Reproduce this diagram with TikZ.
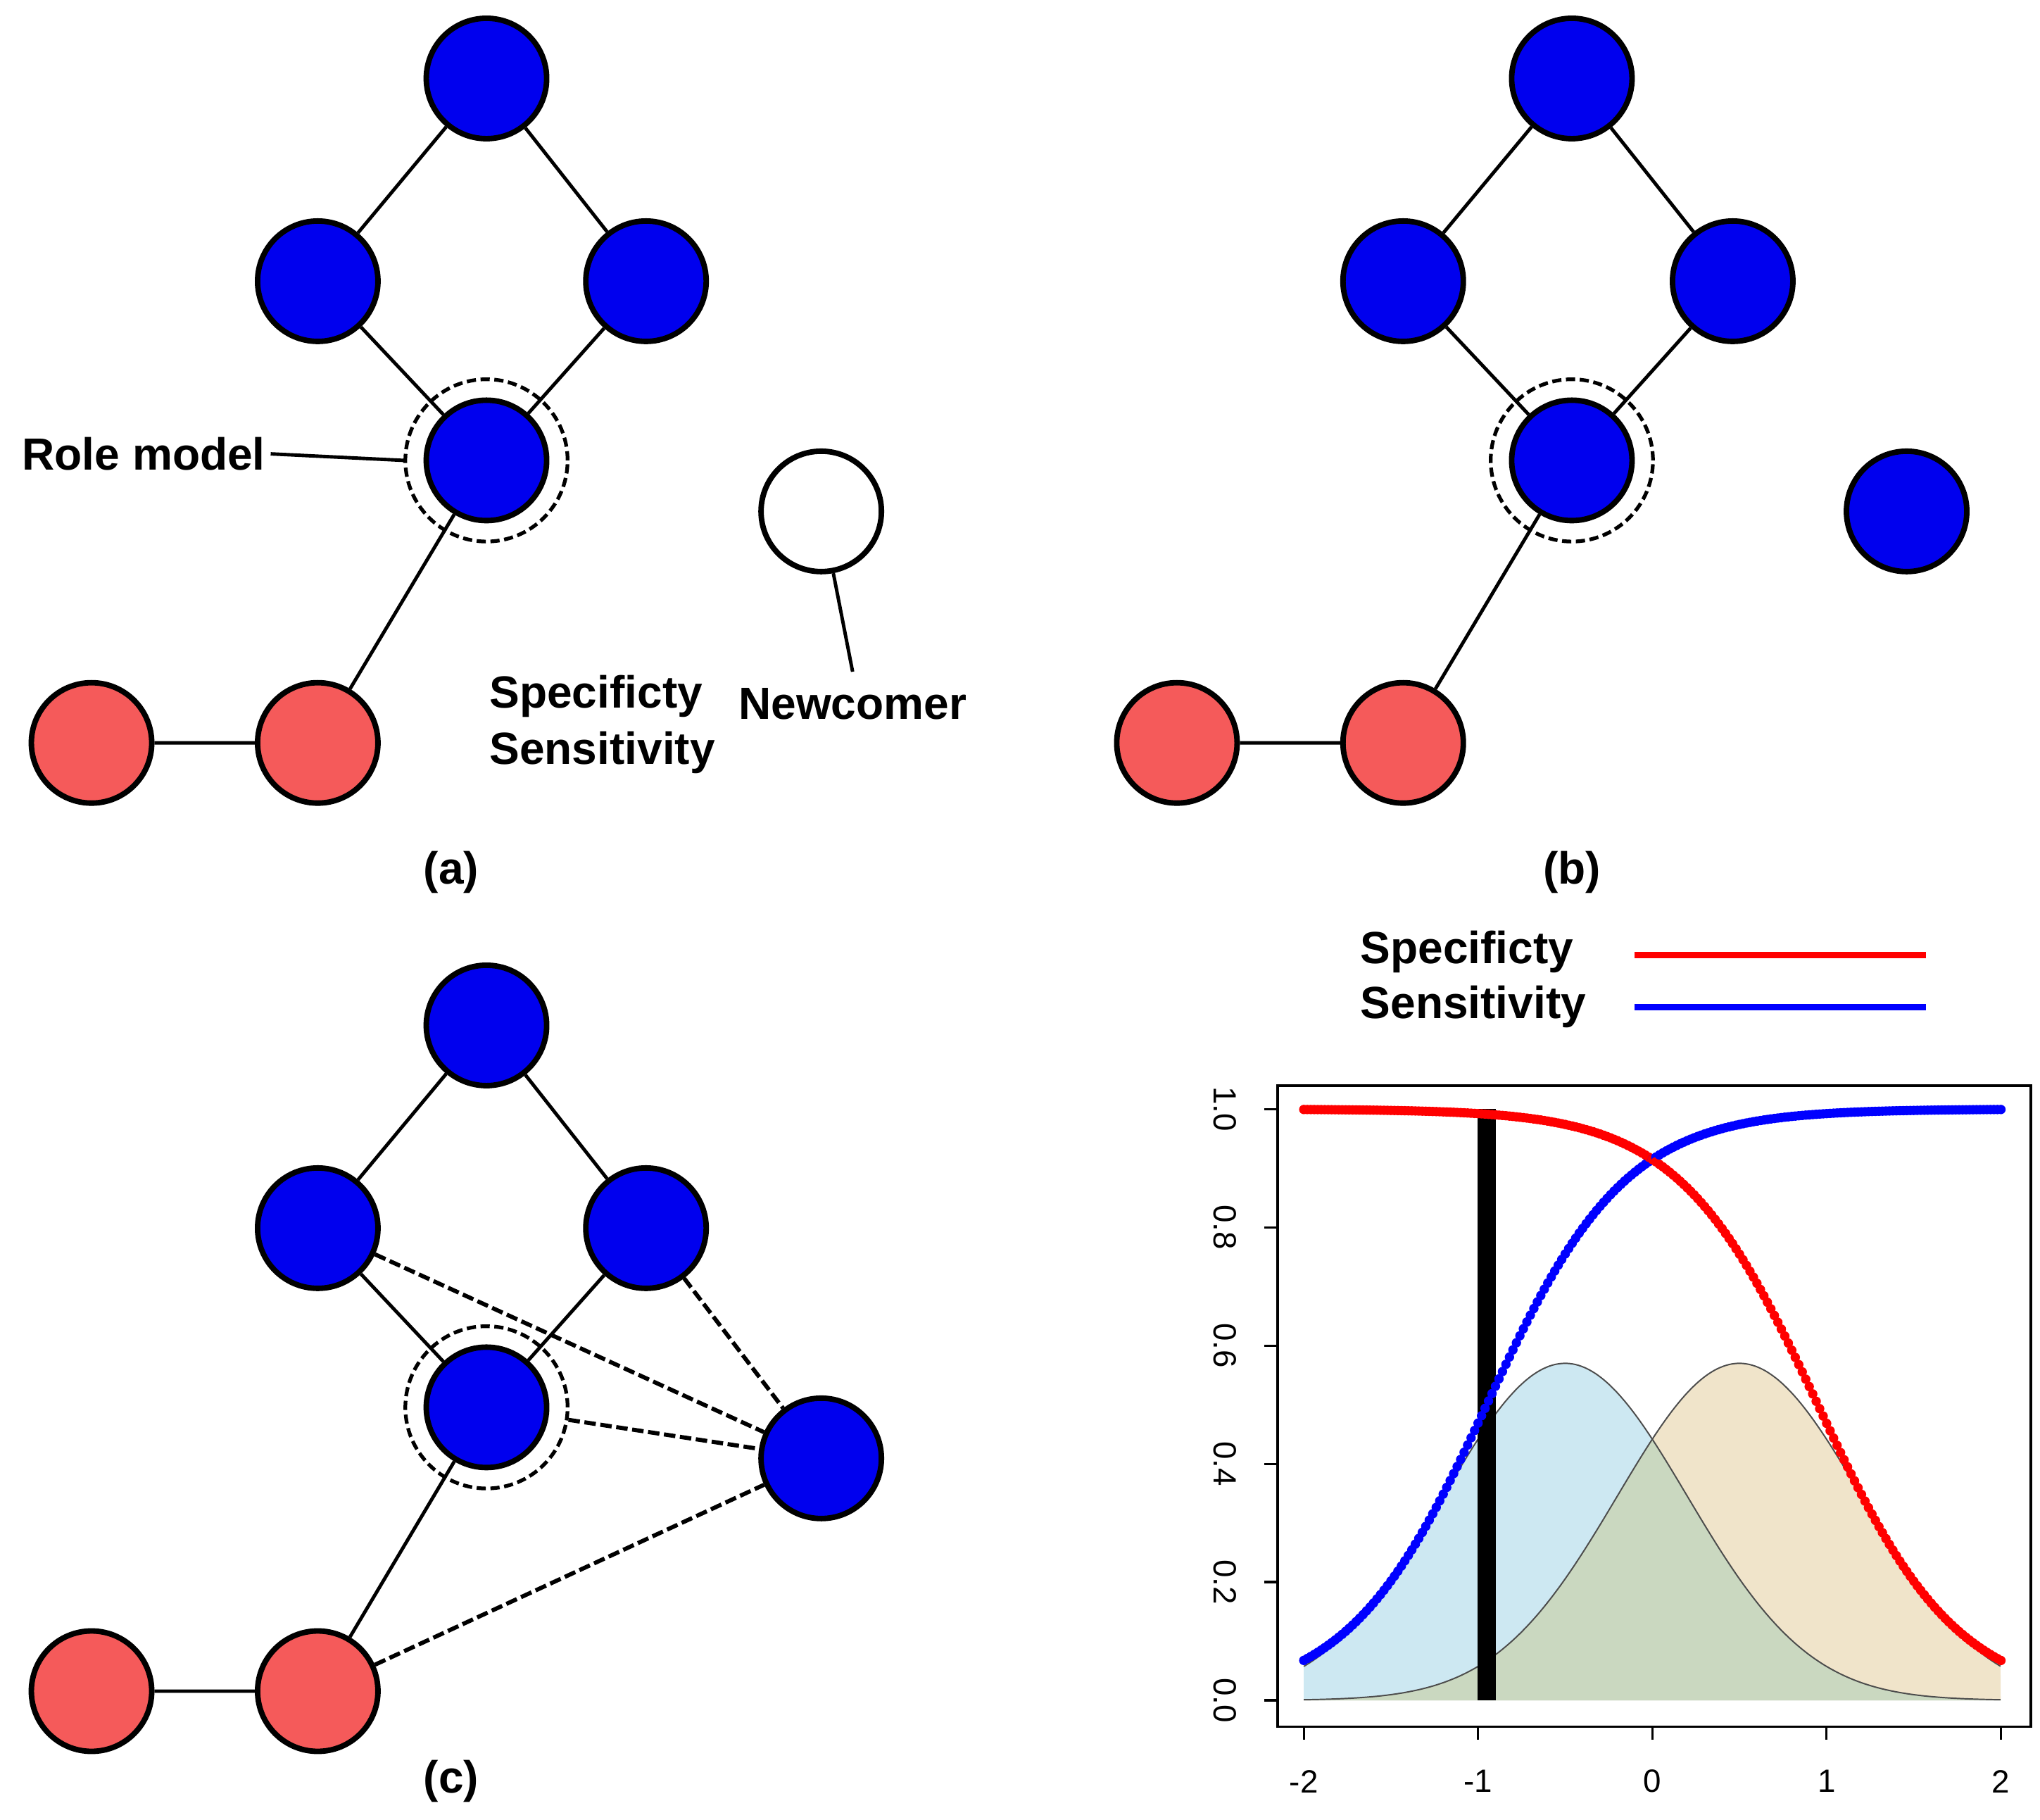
\documentclass[tikz,border=0pt]{standalone}
\usepackage{fontspec}
\setmainfont{Liberation Sans}
\begin{document}
\begin{tikzpicture}[x=0.01cm,y=-0.01cm,
  nd/.style={circle,draw=black,line width=1.2pt,minimum size=0.92cm,inner sep=0pt},
  bl/.style={nd,fill={rgb,255:red,0;green,0;blue,238}},
  rd/.style={nd,fill={rgb,255:red,245;green,90;blue,90}},
  wh/.style={nd,fill=white},
  ed/.style={line width=0.75pt},
  de/.style={line width=0.9pt,dash pattern=on 2.5pt off 1pt},
  rm/.style={circle,draw,line width=0.8pt,dash pattern=on 2pt off 1pt,minimum size=1.24cm},
  lab/.style={font=\bfseries\fontsize{9.8}{12.2}\selectfont},
  tk/.style={font=\fontsize{7}{8}\selectfont},
  cv/.style={black!70,line width=0.3pt}]
\useasboundingbox (0,0) rectangle (1560,1391);
% (a)
\node[bl] (at) at (372,60) {};
\node[bl] (al) at (243,215) {};
\node[bl] (ar) at (494,215) {};
\node[bl] (am) at (372,352) {};
\node[rm] (ac) at (372,352) {};
\node[rd] (ar1) at (70,568) {};
\node[rd] (ar2) at (243,568) {};
\node[wh] (an) at (628,391) {};
\draw[ed] (at)--(al) (at)--(ar) (al)--(am) (ar)--(am) (am)--(ar2) (ar1)--(ar2);
\node[lab,anchor=east,inner sep=1pt] (rml) at (207,347) {Role model};
\draw[ed] (rml.east)--(ac.west);
\node[lab,anchor=west,align=left] (ss) at (362,554) {Specificty\\Sensitivity};
\node[lab] (nc) at (652,538) {Newcomer};
\draw[ed] (nc.north)--(an);
\node[lab] (la) at (345,667) {(a)};
% (b)
\node[bl] (bt) at (1202,60) {};
\node[bl] (bl) at (1073,215) {};
\node[bl] (br) at (1325,215) {};
\node[bl] (bm) at (1202,352) {};
\node[rm] (bc) at (1202,352) {};
\node[rd] (br1) at (900,568) {};
\node[rd] (br2) at (1073,568) {};
\node[bl] (bn) at (1458,391) {};
\draw[ed] (bt)--(bl) (bt)--(br) (bl)--(bm) (br)--(bm) (bm)--(br2) (br1)--(br2);
\node[lab] (lb) at (1202,667) {(b)};
% (c)
\node[bl] (ct) at (372,784) {};
\node[bl] (cl) at (243,939) {};
\node[bl] (cr) at (494,939) {};
\node[bl] (cm) at (372,1076) {};
\node[rm] (cc) at (372,1076) {};
\node[rd] (cr1) at (70,1293) {};
\node[rd] (cr2) at (243,1293) {};
\node[bl] (cn) at (628,1115) {};
\draw[ed] (ct)--(cl) (ct)--(cr) (cl)--(cm) (cr)--(cm) (cm)--(cr2) (cr1)--(cr2);
\draw[de] (cl)--(cn) (cr)--(cn) (cc)--(cn) (cr2)--(cn);
\node[lab] (lc) at (345,1362) {(c)};
% legend
\node[lab,anchor=west] (l1) at (1028,728) {Specificty};
\node[lab,anchor=west] (l2) at (1028,770) {Sensitivity};
\draw[line width=1.4pt,red] (1250,730)--(1473,730);
\draw[line width=1.4pt,blue] (1250,770)--(1473,770);
% plot
\fill[fill={rgb,255:red,205;green,232;blue,242}]
  (997,1300) -- plot[domain=-2:2,samples=120,smooth] ({1263.5+133.25*\x},{1300-452*exp(-((\x+0.5)^2)/(2*0.49))/(0.7*2.5066)}) -- (1530,1300) -- cycle;
\fill[fill={rgb,255:red,240;green,228;blue,202}]
  (997,1300) -- plot[domain=-2:2,samples=120,smooth] ({1263.5+133.25*\x},{1300-452*exp(-((\x-0.5)^2)/(2*0.49))/(0.7*2.5066)}) -- (1530,1300) -- cycle;
\fill[fill={rgb,255:red,202;green,216;blue,192}]
  (997,1300) -- plot[domain=-2:2,samples=121] ({1263.5+133.25*\x},{1300-452*exp(-((abs(\x)+0.5)^2)/(2*0.49))/(0.7*2.5066)}) -- (1530,1300) -- cycle;
\draw[cv] plot[domain=-2:2,samples=120,smooth] ({1263.5+133.25*\x},{1300-452*exp(-((\x+0.5)^2)/(2*0.49))/(0.7*2.5066)});
\draw[cv] plot[domain=-2:2,samples=120,smooth] ({1263.5+133.25*\x},{1300-452*exp(-((\x-0.5)^2)/(2*0.49))/(0.7*2.5066)});
\fill[black] (1130,848) rectangle (1144,1300);
\foreach \x in {-2,-1.98,...,2.001}{
  \pgfmathsetmacro{\yb}{1300-452/(1+exp(-1.75*(\x+0.95)/0.7))}
  \pgfmathsetmacro{\yr}{1300-452/(1+exp(-1.75*(0.95-\x)/0.7))}
  \fill[blue] ({1263.5+133.25*\x},\yb) circle (3.6);
  \fill[red] ({1263.5+133.25*\x},\yr) circle (3.6);
}
\draw[line width=0.5pt] (977,830) rectangle (1553,1320);
\foreach \v/\t in {-2/-2,-1/-1,0/0,1/1,2/2}{
  \draw[line width=0.5pt] ({1263.5+133.25*\v},1320)--({1263.5+133.25*\v},1330);
  \node[tk] at ({1263.5+133.25*\v},1362) {\t};}
\foreach \v in {0.0,0.2,0.4,0.6,0.8,1.0}{
  \draw[line width=0.5pt] (977,{1300-452*\v})--(967,{1300-452*\v});
  \node[tk,rotate=-90] at (937,{1300-452*\v}) {\v};}
\end{tikzpicture}
\end{document}
